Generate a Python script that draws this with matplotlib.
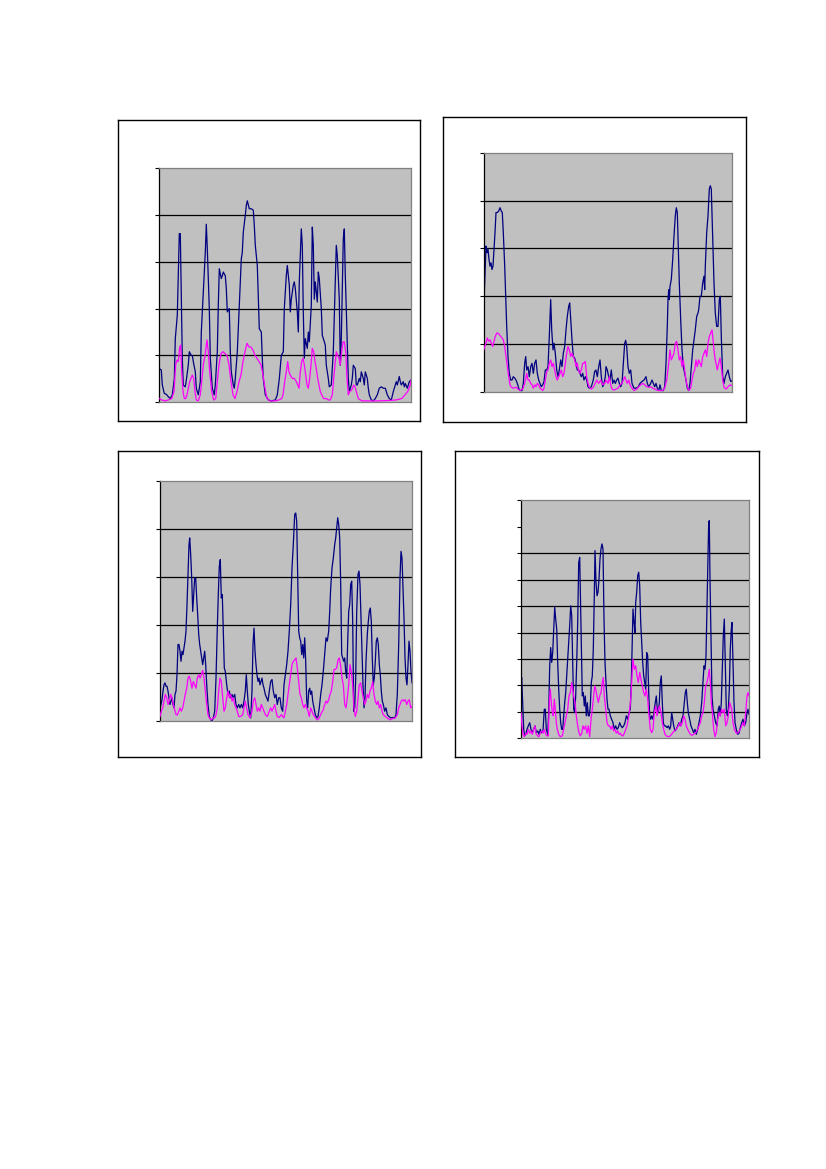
import matplotlib
matplotlib.use("Agg")
import matplotlib.pyplot as plt

W, H = 826, 1169

# panel 1 (top left): (time step, value)
p1_navy = [(0,0.72),(2,0.69),(3,0.37),(5,0.19),(7,0.17),(9,0.12),(11,0.08),(13,0.16),(15,0.5),(16,1.36),(18,1.86),(19,2.78),(20,3.6),(21,3.6),(22,2.2),(23,0.94),(24,0.37),(26,0.33),(27,0.47),(29,0.8),(30,1.08),(32,1.0),(33,1.0),(34,0.87),(36,0.65),(37,0.3),(39,0.16),(41,0.44),(42,1.5),(44,2.35),(46,3.2),(47,3.8),(48,3.28),(50,2.0),(51,0.94),(53,0.3),(55,0.16),(56,0.37),(58,1.08),(59,2.07),(60,2.85),(62,2.64),(63,2.7),(64,2.78),(66,2.7),(67,2.43),(68,1.93),(70,2.0),(71,1.08),(72,0.65),(74,0.37),(75,0.3),(76,0.51),(78,1.08),(80,2.07),(82,3.06),(83,3.2),(84,3.63),(86,3.99),(87,4.2),(88,4.3),(90,4.13),(92,4.13),(94,4.1),(95,3.77),(96,3.35),(98,2.92),(99,2.28),(100,1.57),(102,1.5),(103,0.94),(104,0.5),(106,0.16),(109,0.05),(112,0.03),(116,0.05),(118,0.16),(120,0.5),(122,1.0),(124,1.08),
            (125,2.0),(127,2.7),(128,2.92),(130,2.5),(131,1.93),(132,2.2),(134,2.5),(135,2.57),(136,2.43),(138,1.93),(139,1.5),(140,2.57),(142,3.7),(143,3.35),(144,1.93),(145,0.94),(146,1.36),(148,1.15),(149,1.5),(150,1.29),(152,2.07),(153,3.74),(154,3.35),(155,2.2),(156,2.57),(158,2.14),(159,2.78),(160,2.64),(162,2.0),(163,1.43),(164,1.36),(166,1.22),(167,0.79),(169,0.51),(170,0.33),(172,0.37),(174,1.08),(176,2.57),(177,3.35),(178,3.13),(180,2.2),(181,0.79),(182,1.36),(184,3.49),(185,3.7),(186,2.7),(188,1.22),(189,0.51),(190,0.23),(192,0.37),(193,0.51),(194,0.79),(196,0.72),(197,0.37),(198,0.37),(200,0.51),(201,0.44),(202,0.65),(204,0.51),(205,0.37),(206,0.65),(208,0.51),(209,0.3),(210,0.16),(212,0.05),(214,0.03),(216,0.08),(218,0.16),(220,0.3),(222,0.33),(224,0.3),(226,0.3),(228,0.16),(230,0.08),(232,0.05),(234,0.23),(236,0.37),(237,0.44),(238,0.37),(240,0.55),(241,0.44),(242,0.37),(244,0.44),(245,0.33),(246,0.4),(248,0.3),(249,0.37),(250,0.44),(252,0.48)]
p1_pink = [(0,0.08),(2.4,0.05),(5.7,0.03),(9,0.05),(12.4,0.08),(14.7,0.23),(16.4,0.8),(17.7,0.9),(19,0.87),(20.4,1.18),(21.4,1.22),(22.4,0.65),(23.7,0.23),(25,0.08),(26.4,0.08),(27.7,0.16),(29,0.3),(30.4,0.44),(31.7,0.51),(33,0.58),(34.4,0.51),(35.7,0.23),(37,0.05),(39,0.03),(41,0.16),(42.4,0.44),(44,0.8),(45.7,1.0),(47.7,1.33),(49,1.08),(50.4,0.65),(52.4,0.23),(54.4,0.05),(56.4,0.08),(57.7,0.37),(59.7,0.8),(61.7,1.04),(63.7,1.08),(65.7,1.04),(67.7,1.0),(69.7,0.8),(71.7,0.44),(73.7,0.16),(75.7,0.08),(77.7,0.23),(79.7,0.44),(81.7,0.58),(83.7,0.87),(85.7,1.08),(87.7,1.26),(89.7,1.18),(91.7,1.18),(93.7,1.11),(95.7,1.0),(97.7,0.94),(99.7,0.87),(101.7,0.8),(103.7,0.58),(105.7,0.3),(107.7,0.08),(110.7,0.03),(115.7,0.03),(119.7,0.05),(122.4,0.08),
            (123.7,0.16),(125.4,0.44),(127,0.65),(128.4,0.87),(129.7,0.65),(131,0.58),(133,0.51),(135,0.51),(137,0.44),(138.4,0.37),(139.7,0.3),(141,0.65),(142.4,0.87),(143.7,0.94),(145,0.8),(146.4,0.58),(147.7,0.37),(149,0.3),(150.4,0.51),(151.7,0.8),(153,1.15),(154.4,1.08),(155.7,0.87),(157,0.72),(158.4,0.51),(159.7,0.37),(161,0.23),(162.4,0.16),(164.4,0.08),(167,0.08),(169,0.05),(171,0.05),(173,0.16),(174.4,0.51),(175.7,0.8),(177,1.08),(178.4,1.0),(179.7,0.94),(181,0.8),(182.4,1.08),(183.7,1.29),(185,1.29),(186.4,1.08),(187.7,0.51),(189,0.16),(190.4,0.23),(192.4,0.26),(194.4,0.37),(195.7,0.33),(197,0.23),(199,0.08),(202.4,0.03),(210.4,0.03),(220.4,0.03),(230.4,0.04),(237,0.05),(242.4,0.08),(245.7,0.16),(248.4,0.23),(250.4,0.33),(252,0.48)]

# panel 2 (top right)
p2_navy = [(0,1.7),(1,2.28),(2.3,3.05),(3.3,2.91),(4.3,2.98),(5.3,2.77),(6.3,2.63),(7.3,2.7),(8.3,2.56),(9.3,2.63),(10.3,2.98),(11.3,3.33),(12.3,3.75),(13.6,3.75),(15,3.78),(16.3,3.85),(17.6,3.78),(18.6,3.75),(19.6,3.33),(21,2.63),(22,2.0),(23,1.37),(24.3,0.74),(25.6,0.39),(27,0.25),(28.3,0.25),(29.6,0.32),(31,0.29),(32.3,0.25),(33.6,0.18),(35,0.08),(36.3,0.03),(38.3,0.03),(39.6,0.18),(41,0.6),(42,0.74),(43,0.46),(44.3,0.53),(45.6,0.32),(47,0.53),(48.3,0.6),(49.6,0.39),(51,0.6),(52.3,0.67),(53.6,0.39),(55,0.25),(56.3,0.18),(57.6,0.11),(59,0.15),(60.3,0.22),(61.6,0.46),(63,0.46),(64.3,0.53),(65.6,1.16),(67,1.93),(68,1.3),(69.3,0.88),(70.3,1.02),(71.6,0.81),(73,0.46),(74.3,0.32),(75.6,0.46),(77,0.67),(78.3,0.53),(79.6,0.81),(81,0.95),(82.3,1.3),(83.6,1.58),(85,1.79),(86,1.86),(87,1.51),(88.3,1.09),(89.6,0.74),(91,0.71),(92.3,0.6),(93.6,0.46),(95,0.46),(96.3,0.39),(97.6,0.32),(99,0.39),(100.3,0.25),(101.6,0.32),(103,0.25),(104.3,0.11),(105.6,0.08),(107.6,0.11),(109.6,0.25),(111,0.43),(112.3,0.46),(113.6,0.32),(115,0.53),(116.3,0.67),(117.6,0.32),(119,0.11),(120.3,0.18),(121.6,0.32),
            (122.3,0.53),(123.6,0.46),(125,0.32),(126.3,0.25),(127.6,0.46),(129,0.18),(130.3,0.25),(131.6,0.18),(133,0.25),(134.3,0.29),(135.6,0.18),(137,0.11),(138.3,0.18),(139.6,0.6),(141,1.02),(142,1.08),(143,0.95),(144.3,0.53),(145.6,0.39),(147,0.46),(148.3,0.18),(150.3,0.08),(152.3,0.08),(154.3,0.1),(156.3,0.18),(158.3,0.22),(160.3,0.25),(162.3,0.32),(163.6,0.18),(165,0.11),(167,0.18),(168.3,0.25),(169.6,0.18),(171,0.11),(172.3,0.18),(173.6,0.08),(175,0.03),(176.3,0.15),(177.6,0.03),(179.6,0.03),(181,0.11),(182.3,0.6),(183.6,1.37),(184.3,1.93),(185,2.14),(185.6,1.93),(186.3,2.21),(187.6,2.35),(189,2.77),(190.3,3.26),(191.6,3.68),(192.6,3.85),(193.6,3.75),(194.6,3.05),(195.6,2.28),(197,1.51),(198.3,0.88),(199.6,0.53),(201,0.39),(202.3,0.25),(203.6,0.08),(205,0.03),(206.3,0.18),(207.6,0.53),(209,0.88),(210.3,1.09),(211.6,1.3),(213,1.58),(214.3,1.65),(215,1.72),(216.3,2.0),(217.6,2.0),(219,2.28),(220.3,2.42),(221,2.14),(221.6,2.63),(223,3.33),(224.3,3.68),(225.6,4.24),(226.6,4.31),(227.6,4.24),(229,3.26),(230.3,2.28),(231.6,1.65),(233,1.37),(234.3,1.37),(235.6,1.93),(236.6,2.0),(237.6,1.16),(239,0.32),(240.3,0.18),(241.6,0.32),(243,0.39),(244.3,0.46),(245.6,0.32),(247,0.22),(248.6,0.24)]
p2_pink = [(0,0.88),(1,0.95),(2.3,1.02),(3.6,1.13),(5,1.06),(6.3,1.09),(7.6,1.02),(9,0.95),(10.3,1.06),(11.6,1.16),(13,1.23),(14.3,1.23),(15.6,1.2),(17,1.16),(18.3,1.13),(19.6,1.09),(21,0.95),(22.3,0.74),(23.6,0.53),(25,0.32),(26.3,0.15),(27.6,0.1),(29.6,0.08),(32.3,0.1),(34.3,0.06),(36.3,0.03),(39,0.06),(41,0.18),(43,0.39),(44.3,0.25),(45.6,0.25),(47,0.18),(48.3,0.15),(49.6,0.08),(51,0.15),(52.3,0.11),(53.6,0.18),(55,0.15),(56.3,0.08),(57.6,0.06),(59,0.03),(60.3,0.08),(61.6,0.25),(63,0.43),(64.3,0.46),(65.6,0.6),(67,0.67),(68.3,0.53),(69.6,0.6),(71,0.46),(72.3,0.32),(73.6,0.25),(75,0.32),(76.3,0.39),(77.6,0.46),(79,0.32),(80.3,0.39),(81.6,0.6),(83,0.81),(84.3,0.95),(85.6,0.88),(87,0.74),(88.3,0.81),(89.6,0.74),(91,0.67),(92.3,0.53),(93.6,0.6),(95,0.43),(96.3,0.39),(97.6,0.46),(99,0.6),(100.3,0.6),(101.6,0.64),(103,0.32),(104.3,0.18),(105.6,0.1),(107.6,0.06),(109.6,0.1),(111.6,0.18),(113,0.25),(115,0.18),(117,0.25),(119,0.15),(121,0.18),
            (122.3,0.25),(124.3,0.18),(125.6,0.32),(127,0.15),(128.3,0.06),(130.3,0.04),(132.3,0.06),(134.3,0.08),(136.3,0.15),(138.3,0.18),(139.6,0.25),(141,0.32),(142.3,0.25),(143.6,0.18),(145,0.25),(146.3,0.15),(148.3,0.08),(150.3,0.03),(153,0.06),(155,0.11),(157,0.15),(159,0.18),(161,0.15),(163,0.11),(165,0.1),(167,0.11),(169,0.08),(171,0.06),(173,0.04),(175.6,0.03),(179,0.03),(181,0.08),(183,0.25),(185,0.6),(186.3,0.88),(187.6,0.67),(189,0.74),(190.3,0.81),(191.6,1.02),(193,1.06),(194.3,0.88),(195.6,0.67),(197,0.74),(198.3,0.53),(199.6,0.67),(201,0.46),(202.3,0.25),(203.6,0.11),(205,0.03),(207,0.08),(208.3,0.25),(209.6,0.39),(211,0.46),(212.3,0.67),(213.6,0.53),(215,0.67),(216.3,0.6),(217.6,0.53),(219,0.74),(220.3,0.81),(221.6,0.88),(223,0.74),(224.3,1.02),(225.6,1.16),(227,1.23),(228.3,1.3),(229.6,1.02),(231,0.74),(232.3,0.6),(233.6,0.46),(235,0.6),(236.3,0.71),(237.6,0.53),(239,0.25),(240.3,0.1),(242.3,0.06),(244.3,0.11),(246.3,0.15),(248.6,0.13)]

# panel 3 (bottom left)
p3_navy = [(0,0.28),(1,0.35),(2,0.45),(3,0.63),(4,0.76),(5,0.8),(6,0.73),(7,0.73),(8,0.63),(9,0.49),(10,0.35),(11,0.42),(12,0.49),(13,0.35),(14,0.28),(15,0.56),(16,0.63),(17,0.97),(18,1.6),(19,1.6),(20,1.46),(21,1.25),(22,1.46),(23,1.39),(24,1.53),(25,1.67),(26,1.88),(27,2.43),(28,3.06),(29,3.68),(29.7,3.82),(30.7,3.47),(31.7,2.99),(32.7,2.29),(33.7,2.64),(34.7,2.99),(35.7,2.99),(36.7,2.57),(37.7,2.22),(38.7,1.81),(39.7,1.6),(40.7,1.46),(41.7,1.32),(42.7,1.18),(43.7,1.32),(44.7,1.46),(45.7,1.18),(46.7,0.76),(48,0.35),(49.3,0.1),(50.7,0.03),(52,0.01),(53.3,0.07),(54.7,0.21),(56,0.9),(57.3,1.94),(58.3,2.64),(59.3,3.23),(60.3,3.37),(61.3,2.57),(62.3,2.64),(63.3,1.88),(64.3,1.11),(65.3,1.04),(66.7,0.76),(68,0.56),(69.3,0.63),(70.7,0.49),(72,0.56),(73.3,0.49),(74.7,0.56),(76,0.35),(77.3,0.28),(78.7,0.35),(80,0.28),(81.3,0.35),(82.7,0.28),(84,0.42),(85.3,0.63),(86.3,0.97),(87.3,0.63),(88.3,0.35),(89.3,0.21),(90.7,0.07),(92,0.63),(93,1.6),(94,1.94),(95,1.46),(96,1.18),(97,0.97),(98,0.83),(99,0.9),(100,0.76),(101,0.83),(102,0.9),(103,0.76),(104,0.69),(105.3,0.56),(106.7,0.49),(108,0.42),(109.3,0.63),(110.7,0.83),(112,0.87),(113.3,0.63),(114.7,0.49),(116,0.56),(117.3,0.35),(118.7,0.49),(120,0.49),(121.3,0.28),(122.7,0.21),
            (124,0.76),(125.3,0.97),(126.7,1.18),(128,1.46),(129.3,1.88),(130.7,2.43),(132,3.19),(133.3,3.68),(134.7,4.31),(135.7,4.34),(136.7,4.17),(137.7,2.99),(138.7,1.88),(139.7,1.74),(140.7,1.67),(141.7,1.39),(142.7,1.6),(143.7,1.32),(144.7,1.74),(145.7,1.25),(146.7,0.42),(147.7,0.28),(148.7,0.63),(149.7,0.69),(150.7,0.56),(151.7,0.63),(152.7,0.42),(154,0.28),(155.3,0.14),(156.7,0.07),(158,0.1),(159.3,0.28),(160.7,0.56),(162,0.76),(163.3,1.04),(164.7,1.39),(166,1.74),(167.3,1.67),(168.7,1.88),(169.7,2.29),(170.7,2.78),(172,3.19),(173.3,3.4),(174.7,3.68),(175.7,3.82),(176.7,4.03),(177.7,4.24),(178.7,4.1),(179.7,3.82),(180.7,2.85),(181.7,1.39),(182.7,1.32),(183.7,1.25),(184.7,1.32),(185.7,1.04),(186.7,0.9),(187.7,1.67),(188.7,2.29),(189.7,2.43),(190.7,2.85),(191.7,2.92),(192.7,2.08),(193.7,0.21),(194.7,0.28),(195.7,0.9),(196.7,2.29),(198,3.06),(199,3.13),(200,2.85),(201,2.15),(202,1.46),(203,0.76),(204,0.28),(205,0.49),(206,1.25),(207.3,1.81),(208.3,2.08),(209.3,2.29),(210.3,2.36),(211.3,2.08),(212.3,1.32),(213.3,0.76),(214.3,0.9),(215.3,1.25),(216.3,1.67),(217.3,1.74),(218.3,1.6),(219.3,1.18),(220.3,0.97),(221.3,0.63),(222.3,0.42),(223.3,0.35),(224.7,0.21),(226,0.28),(227.3,0.14),(229,0.1),(230.7,0.07),(232.7,0.08),(234.7,0.07),(236,0.14),(237.3,0.56),(238.7,1.6),(240,2.99),(241,3.54),(242,3.4),(243,2.78),(244,2.15),(245,1.32),(246,0.9),(247,0.76),(248,1.18),(249,1.67),(250,1.46),(251,1.04),(252,0.8)]
p3_pink = [(0,0.1),(1.3,0.21),(2.7,0.28),(4,0.42),(5.3,0.56),(6.7,0.49),(8,0.35),(9.3,0.42),(10.7,0.56),(12,0.49),(13.3,0.35),(14.7,0.24),(16,0.14),(17.3,0.13),(18.7,0.21),(20,0.28),(21.3,0.21),(22.7,0.28),(24,0.42),(25.3,0.56),(26.7,0.69),(28,0.9),(29.3,0.94),(30.7,0.83),(32,0.69),(33.3,0.83),(34.7,0.76),(36,0.69),(37.3,0.9),(38.7,0.97),(40,0.9),(41.3,0.97),(42.7,1.06),(44,0.9),(45.3,0.63),(46.7,0.35),(48,0.14),(49.3,0.07),(51.3,0.03),(53.3,0.08),(54.7,0.07),(56,0.13),(57.3,0.28),(58.7,0.63),(60,0.9),(61.3,0.83),(62.7,0.49),(64,0.21),(65.3,0.28),(66.7,0.49),(68,0.63),(69.3,0.49),(70.7,0.56),(72,0.42),(73.3,0.49),(74.7,0.35),(76,0.28),(77.3,0.21),(78.7,0.1),(80.7,0.1),(82.7,0.14),(84,0.28),(85.3,0.42),(86.7,0.28),(88,0.14),(90,0.07),(92,0.21),(93.3,0.42),(94.7,0.49),(96,0.35),(97.3,0.21),(98.7,0.28),(100,0.21),(101.3,0.35),(102.7,0.28),(104,0.21),(105.3,0.14),(107.3,0.1),(109.3,0.21),(110.7,0.28),(112,0.21),(113.3,0.28),(114.7,0.35),(116,0.21),(117.3,0.1),(119.3,0.08),(121.3,0.14),(122.7,0.1),
            (124,0.07),(125.3,0.21),(126.7,0.35),(128,0.56),(129.3,0.76),(130.7,0.97),(132,1.18),(133.3,1.25),(134.7,1.28),(136,1.32),(137.3,1.11),(138.7,0.83),(140,0.56),(141.3,0.49),(142.7,0.35),(144,0.28),(145.3,0.35),(146.7,0.28),(148,0.21),(149.3,0.1),(150.7,0.28),(152,0.21),(153.3,0.14),(154.7,0.1),(156,0.06),(157.3,0.03),(159.3,0.07),(161.3,0.17),(163.3,0.24),(164.7,0.35),(166,0.42),(167.3,0.38),(168.7,0.45),(170,0.56),(171.3,0.63),(172.7,0.83),(174,1.08),(175.3,1.08),(176.7,1.11),(178,1.28),(179.3,1.32),(180.7,1.15),(182,0.9),(183.3,0.76),(184.7,0.35),(186,0.28),(187.3,0.49),(188.7,0.76),(190,1.18),(191.3,1.04),(192.7,0.76),(194,0.28),(195.3,0.1),(196.7,0.21),(198,0.49),(199.3,0.76),(200.7,0.8),(202,0.63),(203.3,0.49),(204.7,0.35),(206,0.42),(207.3,0.56),(208.7,0.49),(210,0.63),(211.3,0.69),(212.7,0.83),(214,0.56),(215.3,0.42),(216.7,0.35),(218,0.42),(219.3,0.28),(220.7,0.35),(222,0.21),(223.3,0.14),(225.3,0.1),(227.3,0.07),(230,0.03),(232.7,0.06),(235.3,0.07),(237.3,0.14),(238.7,0.28),(240,0.35),(241.3,0.42),(242.7,0.45),(244,0.42),(245.3,0.45),(246.7,0.35),(248,0.42),(249.3,0.45),(250.7,0.28),(252,0.31)]

# panel 4 (bottom right)
p4_navy = [(0,2.1),(0.7,2.3),(1.7,1.35),(2.7,0.34),(3.7,0.09),(4.7,0.15),(6,0.34),(7.3,0.47),(8.7,0.59),(10,0.34),(11.3,0.21),(12.7,0.34),(14,0.47),(15.3,0.21),(16.7,0.28),(18,0.15),(19.3,0.34),(20.7,0.21),(22,0.28),(23.3,1.1),(24.3,1.1),(25.3,0.34),(26.7,0.15),(27.7,0.97),(28.7,2.74),(29.7,3.43),(30.7,2.87),(31.7,3.24),(32.7,4.13),(33.7,4.95),(34.7,4.51),(35.7,4.13),(36.7,2.87),(37.7,1.86),(38.7,1.1),(39.7,0.59),(40.7,0.34),(41.7,0.34),(42.7,0.85),(43.7,1.35),(44.7,1.73),(45.7,2.36),(46.7,2.99),(47.7,3.62),(48.7,4.26),(49.7,5.01),(50.7,4.63),(51.7,2.87),(52.7,1.1),(53.7,0.97),(54.7,1.6),(55.7,2.87),(56.7,4.38),(57.7,6.65),(58.7,6.84),(59.3,5.64),(60.3,3.5),(61.3,1.6),(62.3,1.73),(63.3,1.22),(64.3,1.6),(65.3,0.85),(66.3,1.35),(67.3,0.85),(68.3,0.85),(69.3,1.22),(70.3,2.11),(71.3,2.36),(72.3,3.37),(73.3,5.39),(74,7.1),(75,5.9),(76,5.39),(77,5.52),(78,6.02),(79,6.78),(80,7.16),(81,7.35),(82,7.16),(83,4.51),(84,2.87),(85,2.11),(86,1.48),(87,1.1),(88,1.1),(89.3,0.85),(90.7,0.72),(92,0.59),(93.3,0.34),(94.7,0.47),(96,0.34),(97.3,0.4),(98.7,0.59),(100,0.47),(101.3,0.4),(102.7,0.47),(104,0.59),(105.3,0.85),(106.7,0.72),(108,0.97),(109.3,1.1),(110.3,2.11),(111.3,3.75),
            (112,4.89),(113,4.38),(114,4.0),(114.7,5.14),(115.7,5.52),(116.7,6.15),(117.7,6.28),(118.7,5.77),(119.7,4.38),(120.7,3.62),(121.7,2.87),(122.7,2.36),(123.7,2.11),(124.7,1.86),(125.7,3.24),(126.7,3.12),(127.7,1.73),(128.7,0.85),(129.7,0.72),(130.7,0.85),(132,0.72),(133.3,1.1),(134.3,1.35),(135.3,1.6),(136.3,1.1),(137.3,0.97),(138.3,1.35),(139.3,2.11),(140.3,2.36),(141.3,1.35),(142.3,0.59),(143.3,0.47),(144.7,0.47),(146,0.4),(147.3,0.47),(148.7,0.34),(149.7,0.47),(150.7,0.97),(151.7,0.72),(152.7,0.47),(154,0.28),(155.3,0.34),(156.7,0.47),(158,0.59),(159.3,0.47),(160.7,0.72),(162,0.85),(163.3,1.35),(164.3,1.73),(165.3,1.86),(166.3,1.35),(167.3,0.97),(168.7,0.72),(170,0.47),(171.3,0.34),(172.7,0.21),(174,0.34),(175.3,0.15),(176.7,0.34),(178,0.59),(179.3,0.85),(180.7,1.35),(182,2.11),(183,2.74),(184,2.61),(185,3.12),(186,5.01),(187,6.91),(187.7,8.17),(188.3,8.23),(189,6.02),(190,3.75),(191,1.6),(192,1.1),(193.3,0.85),(194.7,0.59),(196,0.47),(197.3,1.1),(198.3,1.22),(199.3,0.85),(200.3,1.35),(201.3,2.61),(202.3,3.88),(203.3,4.51),(204.3,2.87),(205.3,1.1),(206.3,0.85),(207.3,1.1),(208.3,1.86),(209.3,3.37),(210.3,4.13),(211,4.38),(212,2.87),(213,1.35),(214,0.59),(215.3,0.34),(216.7,0.15),(218,0.19),(219.3,0.4),(220.7,0.59),(222,0.72),(223.3,0.47),(224.7,0.59),(226,0.97),(227,1.1),(228,0.91)]
p4_pink = [(0,0.97),(1,0.47),(2,0.15),(3.3,0.06),(4.7,0.19),(6,0.15),(7.3,0.34),(8.7,0.19),(10,0.28),(11.3,0.15),(12.7,0.34),(14,0.47),(15.3,0.15),(16.7,0.09),(18,0.06),(19.3,0.21),(20.7,0.28),(22,0.19),(23.3,0.34),(24.7,0.15),(26,0.09),(27.3,0.09),(28.3,1.35),(29.3,1.86),(30.3,1.35),(31.3,0.97),(32.3,0.85),(33.3,1.48),(34.3,1.1),(35.3,0.59),(36.3,0.34),(37.7,0.15),(39.3,0.06),(41.3,0.09),(42.7,0.34),(44,0.59),(45.3,0.85),(46.7,1.1),(48,1.6),(49.3,1.73),(50.7,2.11),(51.7,1.86),(52.7,1.6),(54,1.35),(55.3,0.85),(56.7,0.47),(58,0.21),(59.3,0.09),(60.7,0.19),(62,0.47),(63.3,0.34),(64.7,0.47),(66,0.19),(67.3,0.47),(68.7,0.06),(70,0.72),(71.3,1.1),(72.7,1.6),(73.7,1.98),(74.7,1.86),(76,1.6),(77.3,1.35),(78.7,1.6),(80,1.73),(81.3,2.11),(82.3,2.3),(83.3,1.6),(84.7,1.1),(86,0.59),(87.3,0.47),(88.7,0.47),(90,0.34),(91.3,0.47),(92.7,0.28),(94,0.34),(95.3,0.19),(96.7,0.28),(98,0.15),(99.3,0.19),(100.7,0.11),(102,0.09),(103.3,0.19),(104.7,0.34),(106,0.47),(107.3,0.72),(108.7,1.1),(110,1.6),(111,2.36),
            (112,2.99),(113.3,2.61),(114.7,2.74),(116,2.36),(117.3,2.11),(118.7,2.49),(120,2.23),(121.3,1.98),(122.7,1.73),(124,1.6),(125.3,1.86),(126.7,1.48),(128,0.85),(129.3,0.34),(130.7,0.21),(132,0.34),(133.3,0.97),(134.7,1.22),(136,0.85),(137.3,1.1),(138.7,1.22),(140,0.97),(141.3,0.59),(142.7,0.34),(144,0.15),(145.3,0.09),(147.3,0.06),(149.3,0.09),(151.3,0.19),(153.3,0.28),(155.3,0.34),(157.3,0.47),(158.7,0.59),(160,0.47),(161.3,0.59),(162.7,0.85),(164,0.72),(165.3,0.47),(166.7,0.34),(168.7,0.19),(170.7,0.11),(172.7,0.15),(174.7,0.21),(176.7,0.34),(178,0.47),(179.3,0.59),(180.7,0.85),(182,0.97),(183.3,1.35),(184.7,1.98),(186,2.11),(187.3,2.36),(188.3,2.61),(189.3,2.11),(190.3,1.35),(191.3,0.97),(192.7,0.34),(194,0.06),(195.3,0.21),(196.7,0.72),(198,0.97),(199.3,0.85),(200.7,1.1),(202,0.97),(203.3,1.1),(204.7,0.47),(206,0.59),(207.3,0.85),(208.7,1.35),(209.7,1.22),(210.7,1.1),(212,0.59),(213.3,0.34),(215.3,0.19),(217.3,0.21),(219.3,0.34),(220.7,0.47),(222,0.59),(223.3,0.47),(224.7,0.97),(226,1.6),(227,1.73),(228,1.6)]

NAVY = '#000080'
PINK = '#FF00FF'


def box(x0, y0, x1, y1):
    # pixel box (top-left origin) -> figure fraction
    return [x0 / W, 1 - y1 / H, (x1 - x0) / W, (y1 - y0) / H]


def panel(fig, outer, inner, navy, pink, xmax, ymax, grid):
    fr = fig.add_axes(box(*outer))
    fr.set_xticks([])
    fr.set_yticks([])
    for s in fr.spines.values():
        s.set_color('black')
        s.set_linewidth(1.0)

    ax = fig.add_axes(box(*inner))
    ax.set_facecolor('#C0C0C0')
    ax.set_xlim(0, xmax)
    ax.set_ylim(0, ymax)
    ax.set_xticks([])
    ax.set_yticks(range(ymax + 1))
    ax.set_yticklabels([])
    ax.tick_params(axis='y', direction='out', length=3, width=0.8, color='black')
    for g in grid:
        ax.axhline(g, color='black', lw=0.9, zorder=1)
    for k in ['top', 'right', 'bottom']:
        ax.spines[k].set_color('#808080')
        ax.spines[k].set_linewidth(0.9)
    ax.spines['left'].set_color('black')
    ax.spines['left'].set_linewidth(0.9)

    ax.plot([p[0] for p in navy], [p[1] for p in navy], color=NAVY, lw=0.9, zorder=2)
    ax.plot([p[0] for p in pink], [p[1] for p in pink], color=PINK, lw=0.9, zorder=3)
    return ax


fig = plt.figure(figsize=(W / 100, H / 100), dpi=100)
fig.patch.set_facecolor('white')

panel(fig, (117.7, 119.7, 420, 421), (159.3, 168, 411.3, 402.3), p1_navy, p1_pink, 252, 5, [1, 2, 3, 4])
panel(fig, (442.7, 117.3, 746, 421.7), (483.7, 152.7, 732.3, 392), p2_navy, p2_pink, 248.6, 5, [1, 2, 3, 4])
panel(fig, (117.7, 451.3, 421, 757.3), (160, 481.3, 412, 721.3), p3_navy, p3_pink, 252, 5, [1, 2, 3, 4])
panel(fig, (455.3, 451.3, 759.3, 757.3), (521, 500.3, 749, 738.3), p4_navy, p4_pink, 228, 9, [1, 2, 3, 4, 5, 6, 7])

fig.savefig('out.png', dpi=100)
